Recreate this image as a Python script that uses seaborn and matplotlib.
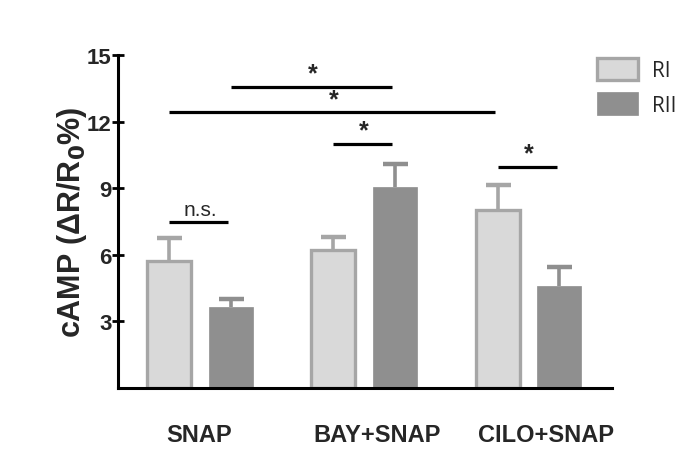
import numpy as np
import pandas as pd
import matplotlib
matplotlib.use("Agg")
import matplotlib.pyplot as plt
from matplotlib.patches import Patch
import seaborn as sns

# Data
treatments = ["SNAP", "BAY+SNAP", "CILO+SNAP"]
receptors = ["RI", "RII"]
ri_mean = [5.7, 6.2, 8.0]
ri_sem = [1.05, 0.6, 1.15]
rii_mean = [3.65, 9.05, 4.6]
rii_sem = [0.35, 1.05, 0.85]
y_ticks = [3, 6, 9, 12, 15]

# Significance brackets: (group, receptor) -> (group, receptor), height, label
sig_pairs = [
    ((0, 1), (1, 1), 13.57, "*"),
    ((0, 0), (2, 0), 12.43, "*"),
    ((1, 0), (1, 1), 11.0, "*"),
    ((2, 0), (2, 1), 9.97, "*"),
    ((0, 0), (0, 1), 7.48, "n.s."),
]

ri_face, ri_edge = "#d9d9d9", "#a6a6a6"
rii_face = "#8f8f8f"

df = pd.DataFrame({
    "treatment": treatments * 2,
    "receptor": ["RI"] * 3 + ["RII"] * 3,
    "value": ri_mean + rii_mean,
})

sns.set_style("white")
plt.rcParams["font.family"] = ["Liberation Sans", "DejaVu Sans"]
plt.rcParams["mathtext.default"] = "regular"

fig = plt.figure(figsize=(6.9, 4.6), dpi=100)
ax = fig.add_axes([118 / 690, 1 - 389 / 460, (612 - 118) / 690, (389 - 56) / 460])

sns.barplot(data=df, x="treatment", y="value", hue="receptor",
            order=treatments, hue_order=receptors,
            palette={"RI": ri_face, "RII": rii_face},
            errorbar=None, width=0.75, gap=0.285, saturation=1,
            legend=False, ax=ax)

# Style bars and collect centers
bars = ax.patches[:6]
centers = {}
for i, p in enumerate(bars):
    hue_i = i // 3
    grp = i % 3
    cx = p.get_x() + p.get_width() / 2
    centers[(grp, hue_i)] = cx
    if hue_i == 0:
        p.set_edgecolor(ri_edge)
        p.set_linewidth(2.4)
    else:
        p.set_edgecolor(rii_face)
        p.set_linewidth(0.5)

# Upward-only error bars (cap only at the top)
for hue_i, (means, sems, col) in enumerate([(ri_mean, ri_sem, ri_edge),
                                             (rii_mean, rii_sem, rii_face)]):
    xs = [centers[(g, hue_i)] for g in range(3)]
    eb = ax.errorbar(xs, means, yerr=[np.zeros(3), sems], fmt="none",
                     ecolor=col, elinewidth=2.6, capsize=9, capthick=3.2,
                     zorder=1)
    for cl in eb[1]:
        if np.allclose(cl.get_ydata(), means):
            cl.set_visible(False)

# Significance brackets
for (a, b, y, lab) in sig_pairs:
    x0, x1 = centers[a], centers[b]
    ax.plot([x0, x1 - 0.015], [y, y], color="black", lw=2.3, solid_capstyle="butt",
            zorder=5)
    if lab == "*":
        ax.text((x0 + x1) / 2, y + 0.05, lab, ha="center", va="bottom",
                fontsize=18, fontweight="bold")
    else:
        ax.text((x0 + x1) / 2, y + 0.15, lab, ha="center", va="bottom",
                fontsize=15)

ax.set_xlim(-0.5, 2.51)
ax.set_ylim(0, 15)
ax.set_yticks(y_ticks)
ax.set_yticklabels([str(t) for t in y_ticks], fontsize=16, fontweight="bold")

# Category labels sit slightly right of the later group centers
label_offset = [-0.006, 0.08, 0.11]
ax.set_xticks(np.arange(3) + np.array(label_offset))
ax.set_xticklabels(treatments, fontsize=17, fontweight="bold")
ax.set_xlabel("")
ax.set_ylabel(r"cAMP ($\Delta$R/R$_\mathbf{0}$%)", fontsize=22, fontweight="bold")
ax.yaxis.set_label_coords(-0.058, 0.5)

sns.despine(ax=ax)
for s in ["left", "bottom"]:
    ax.spines[s].set_color("black")
    ax.spines[s].set_linewidth(2.2)
ax.tick_params(axis="y", direction="inout", length=9, width=2, color="black", pad=0,
               left=True)
ax.tick_params(axis="x", length=0, pad=25)

handles = [Patch(facecolor=ri_face, edgecolor=ri_edge, linewidth=2.4),
           Patch(facecolor=rii_face, edgecolor=rii_face, linewidth=0.5)]
fig.legend(handles, receptors, loc="upper left",
           bbox_to_anchor=(597 / 690, 1 - 59 / 460), frameon=False,
           prop={"family": "Open Sans", "size": 15}, borderpad=0,
           handlelength=1.95, handleheight=1.25, labelspacing=0.55,
           handletextpad=0.7, borderaxespad=0)

fig.savefig("out.png", dpi=100, facecolor="white")
